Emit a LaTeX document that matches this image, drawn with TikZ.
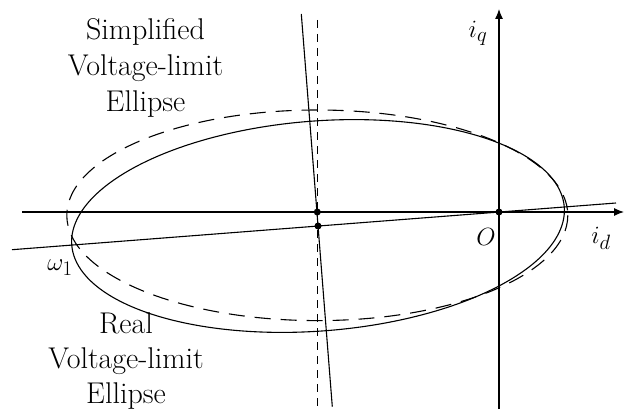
\documentclass[tikz,border=0pt]{standalone}
\usetikzlibrary{arrows.meta}

\begin{document}
\begin{tikzpicture}[x=1pt, y=-1pt, line width=1.1pt,
    lbl/.style={font=\fontsize{30}{36}\selectfont, inner sep=0pt},
    axis/.style={-{Latex[length=10pt,width=8pt]}}]
            \useasboundingbox (0,0) rectangle (628,409);
            \def\A{247}
            \def\B{105}
            \def\ang{4.42}

            % axes
            \coordinate (xs) at (22,212);
            \coordinate (xe) at (624,212);
            \coordinate (ys) at (499,409);
            \coordinate (ye) at (499,9);
            \coordinate (O) at (499,212);
            \draw[black, axis] (xs) -- (xe);
            \draw[black, axis] (ys) -- (ye);

            % simplified ellipse
            \draw[black, dash pattern=on 16pt off 10pt] (317.3,215.3) ellipse ({250.5} and {105.3});
            \coordinate (vs) at (317.3,20);
            \coordinate (ve) at (317.3,408);
            \draw[black, dash pattern=on 8pt off 6pt] (vs) -- (ve);

            % real ellipse
            \coordinate (C) at (318,226);
            \draw[black] plot[domain=0:360, samples=181, smooth]
                ({318 + \A*cos(\x)*cos(\ang) + \B*sin(\x)*sin(\ang)},
                 {226 - \A*cos(\x)*sin(\ang) + \B*sin(\x)*cos(\ang)}) -- cycle;
            \coordinate (ls) at (12,249.7);
            \coordinate (le) at (616,203);
            \draw[black] (ls) -- (le);
            \coordinate (ms) at (301.3,14);
            \coordinate (me) at (332.3,406.7);
            \draw[black] (ms) -- (me);

            \coordinate (Cs) at (317.3,212);
            \fill[black] (Cs) circle (3.5pt);
            \fill[black] (C) circle (3.5pt);
            \fill[black] (O) circle (3.5pt);

            \node[lbl] (iq) at (478,33) {$i_q$};
            \node[lbl] (id) at (601,238) {$i_d$};
            \node[lbl] (o) at (486,237) {$O$};
            \node[lbl] (w1) at (60,267.5) {$\omega_1$};

            \node[lbl, anchor=base] (simpA) at (145.5,40) {Simplified};
            \node[lbl, anchor=base] (simpB) at (145.5,75.5) {Voltage-limit};
            \node[lbl, anchor=base] (simpC) at (145.5,111) {Ellipse};
            \node[lbl, anchor=base] (realA) at (126,333) {Real};
            \node[lbl, anchor=base] (realB) at (126,368) {Voltage-limit};
            \node[lbl, anchor=base] (realC) at (126,403.5) {Ellipse};
        \end{tikzpicture}
\end{document}
